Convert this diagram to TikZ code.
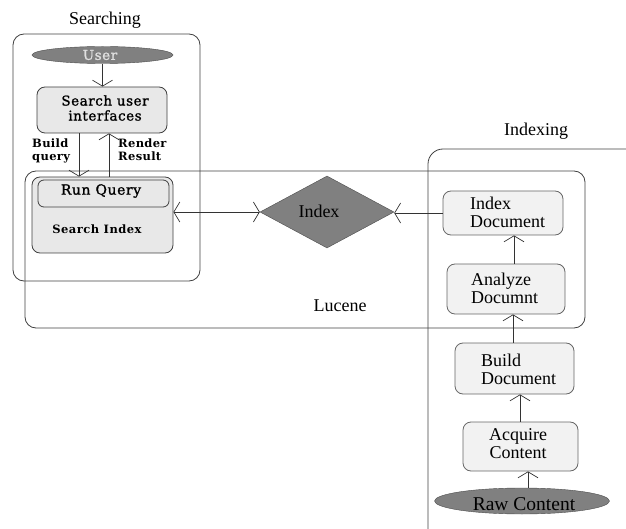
\documentclass[tikz,border=0pt]{standalone}
\usepackage{fontspec}
\setmainfont{Liberation Serif}
\newfontfamily\labfont[FakeBold=1.3, LetterSpace=4]{DejaVu Serif}
\newfontfamily\labbfont[LetterSpace=3]{DejaVu Serif}
\usetikzlibrary{arrows.meta,shapes.geometric}
\tikzset{
  grp/.style={draw=black!75, line width=0.8pt, rounded corners=11pt},
  gbox/.style={draw=black!75, fill=black!9, line width=0.8pt, rounded corners=8pt, inner sep=0pt},
  ibox/.style={draw=black!60, fill=black!5, line width=0.8pt, rounded corners=8pt, inner sep=0pt},
  dark/.style={draw=black!70, fill=black!50, inner sep=0pt},
  arr/.style={draw=black!80, line width=0.7pt, -{Straight Barb[length=6pt,width=20pt]}},
  big/.style={font=\fontsize{18}{18}\selectfont, inner sep=0pt},
  lab/.style={font=\labfont\fontsize{13.5}{15}\selectfont, inner sep=0pt},
  smallb/.style={font=\labbfont\bfseries\fontsize{11.5}{13}\selectfont, inner sep=0pt, align=left},
}
\begin{document}
\begin{tikzpicture}[x=1pt,y=-1pt]
\useasboundingbox (0,0) rectangle (626,529);
\clip (0,0) rectangle (626,529);
% group frames
\node[big] (searching) at (105,20) {Searching};
\draw[grp] (13,34) rectangle (200,281);
\draw[grp] (25,171) rectangle (585,328);
\node[big] (lucene) at (340,306) {Lucene};
\node[big] (indexing) at (536,131) {Indexing};
\draw[grp, rounded corners=15pt] (428,149) rectangle (660,560);

% searching side
\node[dark, ellipse, minimum width=141pt, minimum height=17pt] (user) at (102.5,55) {};
\node[lab, text=black!12] (usert) at (100,55) {User};
\node[gbox, minimum width=130pt, minimum height=46pt] (sui) at (102,110) {};
\node[lab, align=center] (suit) at (105,108) {Search user\\interfaces};
\draw[arr] (user.south) -- (user.south |- sui.north);

\node[gbox, minimum width=141pt, minimum height=76pt] (si) at (102.5,215) {};
\node[gbox, minimum width=131pt, minimum height=27pt, rounded corners=6pt] (rq) at (103.5,193.5) {};
\node[lab, font=\labfont\fontsize{14}{15}\selectfont] (rqt) at (101,191) {Run Query};
\node[lab, font=\labbfont\bfseries\fontsize{11.5}{12}\selectfont\addfontfeature{LetterSpace=4}] (sit) at (97,229) {Search Index};

\draw[arr] ([xshift=-23pt]sui.south) -- ([xshift=-23pt]sui.south |- si.north);
\draw[arr] ([xshift=7pt]sui.south |- si.north) -- ([xshift=7pt]sui.south);
\node[smallb, anchor=north west] (bq) at (32,139) {Build\\query};
\node[smallb, anchor=north west] (rr) at (118,139) {Render\\Result};

% index diamond
\node[dark, diamond, minimum width=134pt, minimum height=72pt] (index) at (327,212) {};
\node[big] (indext) at (319,211) {Index};
\draw[arr, {Straight Barb[length=6pt,width=20pt]}-{Straight Barb[length=6pt,width=20pt]}] (index.west) -- (index.west -| si.east);

% indexing side
\node[ibox, minimum width=120pt, minimum height=44pt] (idoc) at (503,213) {};
\node[big, align=left, anchor=west] (idoct) at (470,212) {Index\\Document};
\node[ibox, minimum width=118pt, minimum height=50pt] (adoc) at (506,289) {};
\node[big, align=left, anchor=west] (adoct) at (471,288) {Analyze\\Documnt};
\node[ibox, minimum width=119pt, minimum height=51pt] (bdoc) at (514.5,368.5) {};
\node[big, align=left, anchor=west] (bdoct) at (481,369) {Build\\Document};
\node[ibox, minimum width=115pt, minimum height=49pt] (acq) at (520.5,446.5) {};
\node[big, align=center] (acqt) at (518,444) {Acquire\\Content};
\node[dark, ellipse, minimum width=175pt, minimum height=26pt] (raw) at (522,501) {};
\node[big, font=\fontsize{19.5}{20}\selectfont] (rawt) at (524,504) {Raw Content};

\draw[arr] ([xshift=11pt]idoc.south |- adoc.north) -- ([xshift=11pt]idoc.south);
\draw[arr] ([xshift=7pt]adoc.south |- bdoc.north) -- ([xshift=7pt]adoc.south);
\draw[arr] ([xshift=5.5pt]bdoc.south |- acq.north) -- ([xshift=5.5pt]bdoc.south);
\draw[arr] ([xshift=7.5pt]acq.south |- raw.north) -- ([xshift=7.5pt]acq.south);
\draw[arr] (idoc.west) -- (idoc.west -| index.east);
\end{tikzpicture}
\end{document}
